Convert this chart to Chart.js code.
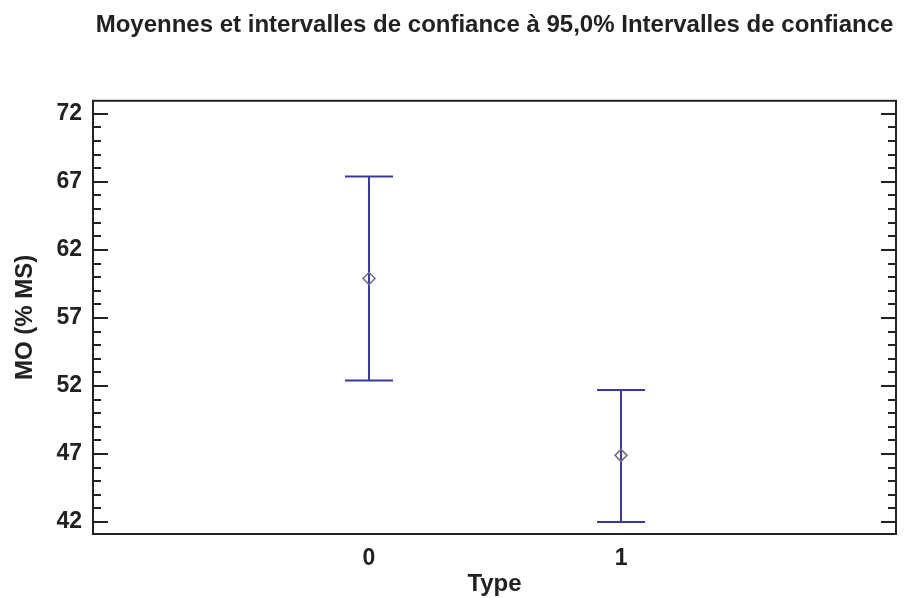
<!DOCTYPE html>
<html>
<head>
<meta charset="utf-8">
<script src="https://cdn.jsdelivr.net/npm/chart.js@4.4.1/dist/chart.umd.min.js"></script>
<style>
  html, body { margin: 0; padding: 0; background: #fff; }
  #wrap { width: 906px; height: 598px; }
</style>
</head>
<body>
<div id="wrap"><canvas id="meansChart"></canvas></div>
<script>
// Moyennes et IC 95% par type
const types = [0, 1];
const means = [59.9, 46.9];
const lowerLimits = [52.4, 42.0];
const upperLimits = [67.4, 51.7];
const yTicks = [42, 47, 52, 57, 62, 67, 72];

const FONT = '"Liberation Sans", Arial, Helvetica, sans-serif';
const INK = '#222222';
const BAR = '#3a3a9c';

// error bars, plot frame and inward ticks
const framePlugin = {
    id: 'framePlugin',
    beforeDatasetsDraw(chart) {
        const { ctx, scales: { x, y } } = chart;
        ctx.save();
        ctx.strokeStyle = BAR;
        ctx.lineWidth = 2;
        types.forEach((t, i) => {
            const px = x.getPixelForValue(t);
            const top = y.getPixelForValue(upperLimits[i]);
            const bot = y.getPixelForValue(lowerLimits[i]);
            ctx.beginPath();
            ctx.moveTo(px, top);
            ctx.lineTo(px, bot);
            ctx.moveTo(px - 24, top);
            ctx.lineTo(px + 24, top);
            ctx.moveTo(px - 24, bot);
            ctx.lineTo(px + 24, bot);
            ctx.stroke();
        });
        ctx.restore();
    },
    afterDraw(chart) {
        const { ctx, chartArea: a, scales: { y } } = chart;
        ctx.save();
        ctx.strokeStyle = INK;
        ctx.lineWidth = 2;
        ctx.strokeRect(a.left, a.top, a.right - a.left, a.bottom - a.top);
        for (let v = Math.ceil(y.min); v <= Math.floor(y.max); v++) {
            const py = Math.round(y.getPixelForValue(v));
            const len = yTicks.includes(v) ? 15 : 8;
            ctx.beginPath();
            ctx.moveTo(a.left, py);
            ctx.lineTo(a.left + len, py);
            ctx.moveTo(a.right, py);
            ctx.lineTo(a.right - len, py);
            ctx.stroke();
        }
        ctx.restore();
    }
};

new Chart(document.getElementById('meansChart').getContext('2d'), {
    type: 'scatter',
    data: {
        datasets: [{
            label: 'Moyenne',
            data: types.map((t, i) => ({ x: t, y: means[i] })),
            pointStyle: 'rectRot',
            pointRadius: 6,
            pointBorderWidth: 1.5,
            pointBorderColor: '#6e6e7e',
            pointBackgroundColor: 'rgba(255,255,255,0)',
        }],
    },
    options: {
        responsive: true,
        maintainAspectRatio: false,
        animation: false,
        layout: { padding: { left: 0, right: 10, top: 0, bottom: 0 } },
        plugins: {
            legend: { display: false },
            tooltip: { enabled: false },
            title: {
                display: true,
                text: 'Moyennes et intervalles de confiance à 95,0% Intervalles de confiance',
                color: INK,
                fullSize: false,
                font: { family: FONT, size: 24, weight: 'bold' },
                padding: { top: 11, bottom: 61 },
            },
        },
        scales: {
            x: {
                type: 'linear',
                min: -1.095,
                max: 2.091,
                afterBuildTicks: s => { s.ticks = types.map(v => ({ value: v })); },
                afterFit: s => { s.height = 64; },
                grid: { display: false, drawTicks: false },
                border: { display: false },
                ticks: {
                    color: INK,
                    padding: 11,
                    font: { family: FONT, size: 23, weight: 'bold' },
                    callback: v => String(v),
                },
                title: {
                    display: true,
                    text: 'Type',
                    color: INK,
                    font: { family: FONT, size: 24, weight: 'bold', lineHeight: 1.1 },
                    padding: { top: 0, bottom: 0 },
                },
            },
            y: {
                min: 41.12,
                max: 72.96,
                afterBuildTicks: s => { s.ticks = yTicks.map(v => ({ value: v })); },
                afterFit: s => { s.width = 93; },
                grid: { display: false, drawTicks: false },
                border: { display: false },
                ticks: {
                    color: INK,
                    padding: 11,
                    font: { family: FONT, size: 23, weight: 'bold' },
                    callback: v => String(v),
                },
                title: {
                    display: true,
                    text: 'MO (% MS)',
                    color: INK,
                    font: { family: FONT, size: 24, weight: 'bold' },
                    padding: { top: 11, bottom: 0 },
                },
            },
        },
    },
    plugins: [framePlugin],
});
</script>
</body>
</html>
